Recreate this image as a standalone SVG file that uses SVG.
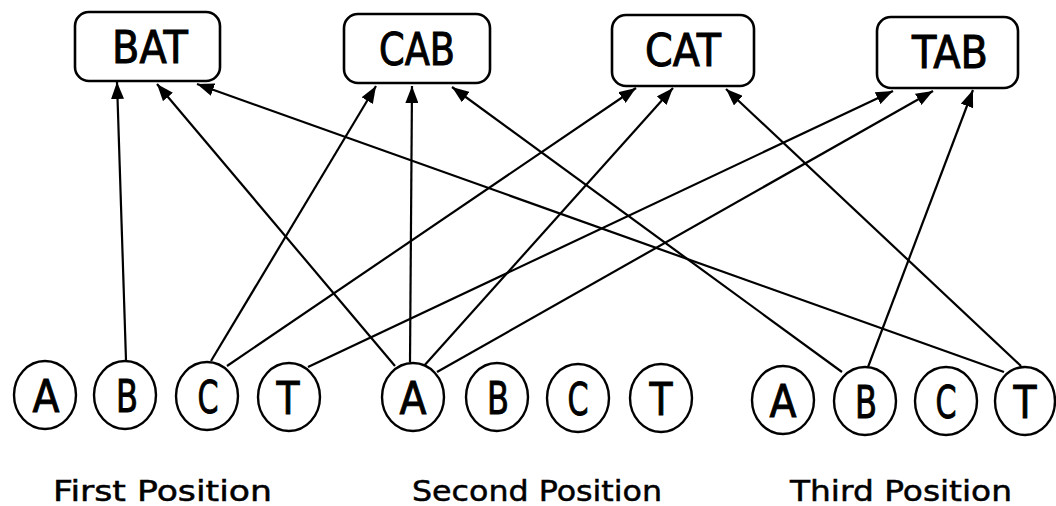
<svg xmlns="http://www.w3.org/2000/svg" width="1056" height="506" viewBox="0 0 1056 506">
<style>
.box{fill:#fff;stroke:#000;stroke-width:2.6}
.circ{fill:#fff;stroke:#000;stroke-width:2.4}
.w{font-family:"DejaVu Sans",sans-serif;font-size:44px;fill:#000;stroke:#000;stroke-width:1;text-anchor:middle}
.l{font-family:"DejaVu Sans",sans-serif;font-size:45px;fill:#000;stroke:#000;stroke-width:1;text-anchor:middle}
.lab{font-family:"DejaVu Sans",sans-serif;font-size:29px;fill:#000;stroke:#000;stroke-width:0.5}
.c{stroke:#000;stroke-width:2.2;fill:none;marker-end:url(#ah)}
</style>
<defs>
<marker id="ah" viewBox="0 0 17 13" refX="17" refY="6.5" markerWidth="17" markerHeight="13" orient="auto" markerUnits="userSpaceOnUse">
<path d="M0,0 L17,6.5 L0,13 z" fill="#000"/>
</marker>
</defs>
<rect width="1056" height="506" fill="#fff"/>
<g id="connectors">
<line class="c" x1="126" y1="360" x2="117" y2="82"/>
<line class="c" x1="395" y1="366" x2="157" y2="84"/>
<line class="c" x1="1004" y1="372" x2="197" y2="84"/>
<line class="c" x1="211" y1="361" x2="376" y2="86"/>
<line class="c" x1="410" y1="362" x2="412" y2="86"/>
<line class="c" x1="842" y1="372" x2="452" y2="87"/>
<line class="c" x1="227" y1="366" x2="636" y2="88"/>
<line class="c" x1="423" y1="367" x2="673" y2="88"/>
<line class="c" x1="1021" y1="366" x2="726" y2="89"/>
<line class="c" x1="308" y1="367" x2="893" y2="91"/>
<line class="c" x1="437" y1="372" x2="933" y2="91"/>
<line class="c" x1="868" y1="367" x2="973" y2="90"/>
</g>
<g id="BAT"><rect class="box" x="75" y="12" width="145" height="69" rx="14"/><text class="w" x="150" y="63" textLength="76" lengthAdjust="spacingAndGlyphs">BAT</text></g>
<g id="CAB"><rect class="box" x="344" y="14" width="146" height="69" rx="14"/><text class="w" x="417" y="65" textLength="76" lengthAdjust="spacingAndGlyphs">CAB</text></g>
<g id="CAT"><rect class="box" x="612" y="15" width="142" height="71" rx="14"/><text class="w" x="683" y="66" textLength="76" lengthAdjust="spacingAndGlyphs">CAT</text></g>
<g id="TAB"><rect class="box" x="877" y="17" width="141" height="71" rx="14"/><text class="w" x="950" y="68" textLength="76" lengthAdjust="spacingAndGlyphs">TAB</text></g>
<g id="A1"><ellipse class="circ" cx="45" cy="395" rx="31" ry="34"/><text class="l" x="46" y="412" textLength="27" lengthAdjust="spacingAndGlyphs">A</text></g>
<g id="B1"><ellipse class="circ" cx="125" cy="395" rx="31" ry="34"/><text class="l" x="127" y="412" textLength="22" lengthAdjust="spacingAndGlyphs">B</text></g>
<g id="C1"><ellipse class="circ" cx="207" cy="396" rx="31" ry="34"/><text class="l" x="208" y="413" textLength="21" lengthAdjust="spacingAndGlyphs">C</text></g>
<g id="T1"><ellipse class="circ" cx="289" cy="397" rx="31" ry="34"/><text class="l" x="288" y="414" textLength="23" lengthAdjust="spacingAndGlyphs">T</text></g>
<g id="A2"><ellipse class="circ" cx="413" cy="397" rx="31" ry="34"/><text class="l" x="413" y="414" textLength="27" lengthAdjust="spacingAndGlyphs">A</text></g>
<g id="B2"><ellipse class="circ" cx="497" cy="397" rx="31" ry="34"/><text class="l" x="498" y="414" textLength="22" lengthAdjust="spacingAndGlyphs">B</text></g>
<g id="C2"><ellipse class="circ" cx="578" cy="398" rx="31" ry="34"/><text class="l" x="578" y="415" textLength="21" lengthAdjust="spacingAndGlyphs">C</text></g>
<g id="T2"><ellipse class="circ" cx="661" cy="398" rx="31" ry="34"/><text class="l" x="661" y="415" textLength="23" lengthAdjust="spacingAndGlyphs">T</text></g>
<g id="A3"><ellipse class="circ" cx="783" cy="400" rx="31" ry="34"/><text class="l" x="783" y="417" textLength="27" lengthAdjust="spacingAndGlyphs">A</text></g>
<g id="B3"><ellipse class="circ" cx="865" cy="401" rx="31" ry="34"/><text class="l" x="866" y="418" textLength="22" lengthAdjust="spacingAndGlyphs">B</text></g>
<g id="C3"><ellipse class="circ" cx="946" cy="401" rx="31" ry="34"/><text class="l" x="946" y="418" textLength="21" lengthAdjust="spacingAndGlyphs">C</text></g>
<g id="T3"><ellipse class="circ" cx="1025" cy="401" rx="30" ry="34"/><text class="l" x="1025" y="418" textLength="23" lengthAdjust="spacingAndGlyphs">T</text></g>
<g id="labels">
<text class="lab" x="53" y="501" textLength="219" lengthAdjust="spacingAndGlyphs">First Position</text>
<text class="lab" x="412" y="501" textLength="250" lengthAdjust="spacingAndGlyphs">Second Position</text>
<text class="lab" x="790" y="501" textLength="222" lengthAdjust="spacingAndGlyphs">Third Position</text>
</g>
</svg>
